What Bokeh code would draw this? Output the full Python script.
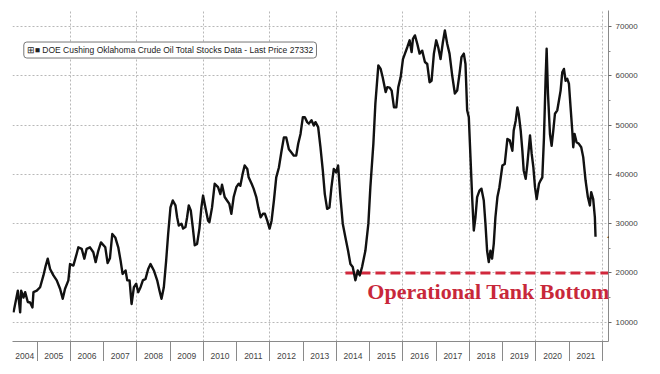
from bokeh.plotting import figure
from bokeh.models import FixedTicker, Label, CustomJSTickFormatter
from bokeh.embed import file_html
from bokeh.resources import INLINE

# ---- data (decimal year, thousand barrels) ----
dates = [
    2004.29, 2004.42, 2004.49, 2004.52, 2004.59, 2004.64, 2004.72, 2004.79, 2004.86, 2004.89,
    2004.99, 2005.09, 2005.19, 2005.26, 2005.32, 2005.39, 2005.49, 2005.59, 2005.69, 2005.77,
    2005.84, 2005.94, 2005.99, 2006.09, 2006.19, 2006.24, 2006.34, 2006.42, 2006.49, 2006.59,
    2006.69, 2006.76, 2006.84, 2006.92, 2007.05, 2007.12, 2007.19, 2007.26, 2007.35, 2007.44,
    2007.51, 2007.57, 2007.66, 2007.71, 2007.78, 2007.84, 2007.91, 2007.98, 2008.04, 2008.11,
    2008.18, 2008.26, 2008.34, 2008.41, 2008.51, 2008.61, 2008.68, 2008.74, 2008.81, 2008.88,
    2008.94, 2009.01, 2009.08, 2009.16, 2009.21, 2009.26, 2009.34, 2009.39, 2009.46, 2009.51,
    2009.56, 2009.62, 2009.68, 2009.74, 2009.81, 2009.88, 2009.94, 2009.99, 2010.06, 2010.14,
    2010.18, 2010.26, 2010.34, 2010.44, 2010.51, 2010.56, 2010.64, 2010.71, 2010.78, 2010.84,
    2010.91, 2010.99, 2011.06, 2011.11, 2011.18, 2011.24, 2011.32, 2011.36, 2011.45, 2011.51,
    2011.59, 2011.65, 2011.72, 2011.79, 2011.85, 2011.92, 2011.99, 2012.05, 2012.12, 2012.19,
    2012.27, 2012.35, 2012.42, 2012.49, 2012.57, 2012.64, 2012.72, 2012.79, 2012.85, 2012.92,
    2012.99, 2013.05, 2013.12, 2013.17, 2013.25, 2013.32, 2013.37, 2013.45, 2013.52, 2013.59,
    2013.65, 2013.72, 2013.79, 2013.85, 2013.92, 2013.99, 2014.05, 2014.12, 2014.19, 2014.27,
    2014.35, 2014.42, 2014.49, 2014.57, 2014.64, 2014.70, 2014.77, 2014.87, 2014.96, 2015.02,
    2015.11, 2015.17, 2015.26, 2015.33, 2015.39, 2015.48, 2015.53, 2015.60, 2015.66, 2015.73,
    2015.80, 2015.86, 2015.93, 2016.00, 2016.06, 2016.13, 2016.20, 2016.26, 2016.30, 2016.36,
    2016.43, 2016.50, 2016.58, 2016.66, 2016.73, 2016.80, 2016.86, 2016.93, 2017.00, 2017.06,
    2017.13, 2017.20, 2017.26, 2017.33, 2017.40, 2017.48, 2017.56, 2017.63, 2017.70, 2017.76,
    2017.83, 2017.88, 2017.93, 2017.98, 2018.03, 2018.08, 2018.13, 2018.18, 2018.23, 2018.30,
    2018.36, 2018.43, 2018.48, 2018.53, 2018.58, 2018.63, 2018.68, 2018.73, 2018.78, 2018.84,
    2018.90, 2018.99, 2019.06, 2019.14, 2019.21, 2019.29, 2019.33, 2019.39, 2019.44, 2019.48,
    2019.54, 2019.59, 2019.63, 2019.69, 2019.74, 2019.82, 2019.87, 2019.92, 2019.97, 2020.02,
    2020.09, 2020.14, 2020.19, 2020.24, 2020.29, 2020.32, 2020.36, 2020.42, 2020.47, 2020.52,
    2020.57, 2020.64, 2020.69, 2020.74, 2020.79, 2020.84, 2020.89, 2020.94, 2020.99, 2021.04,
    2021.09, 2021.12, 2021.16, 2021.22, 2021.29, 2021.36, 2021.42, 2021.49, 2021.56, 2021.62,
    2021.66, 2021.72, 2021.77, 2021.79,
]
stocks = [
    12000, 16400, 12000, 16400, 15000, 16100, 14100, 14000, 13000, 16100,
    16400, 17100, 19500, 21500, 22900, 20800, 19500, 18500, 16800, 14750,
    16800, 18500, 21800, 21500, 23900, 25200, 24900, 22900, 24900, 25200,
    24200, 22200, 24500, 26200, 25200, 22000, 23000, 27900, 27200, 25200,
    22500, 19800, 20500, 18500, 18500, 13700, 17100, 17800, 16100, 17100,
    18500, 18800, 20800, 21800, 20500, 18500, 16400, 14750, 17100, 22500,
    27900, 33300, 34700, 33700, 31300, 29600, 30000, 29000, 29300, 31300,
    33700, 32700, 29300, 25600, 25900, 29000, 33300, 35700, 33300, 30600,
    30300, 33300, 38100, 37400, 36000, 37900, 35400, 34700, 34000, 32000,
    35400, 37400, 38100, 37700, 40100, 41800, 41100, 39400, 38100, 37100,
    35400, 33300, 31300, 32000, 32000, 30600, 29000, 30600, 34700, 39400,
    41400, 44800, 47500, 47500, 45100, 44500, 43800, 43800, 46200, 48200,
    51600, 51600, 50600, 50300, 51000, 49900, 50600, 49600, 45500, 40800,
    36000, 33000, 33300, 37400, 41100, 40400, 41800, 35400, 30000, 27200,
    24500, 21800, 21200, 18500, 20500, 19500, 21200, 24500, 30000, 37400,
    46200, 54300, 62100, 61400, 59700, 56700, 57700, 57600, 57000, 53600,
    53600, 57700, 59700, 63400, 64500, 65800, 67200, 64800, 67500, 68200,
    66500, 64500, 65100, 62800, 62400, 58700, 59000, 64500, 67200, 65800,
    63400, 66800, 69200, 66500, 64500, 60100, 56400, 57000, 60400, 63800,
    64500, 62400, 53000, 51600, 43500, 35400, 28600, 31300, 35400, 36700,
    37100, 34700, 30000, 24500, 22200, 24500, 22900, 25900, 31300, 35400,
    37400, 41800, 42100, 47200, 46900, 44800, 48900, 50900, 53600, 52300,
    48900, 44800, 40800, 39100, 42100, 47900, 44200, 41500, 37400, 35000,
    38100, 38800, 39400, 47500, 59700, 65500, 56400, 48200, 45800, 48900,
    52300, 53000, 55000, 57000, 60700, 61400, 59000, 59400, 58400, 53600,
    48900, 45500, 48200, 46500, 46200, 45500, 43500, 38800, 35400, 33700,
    36400, 35000, 31300, 27332,
]
year_labels = list(range(2004, 2022))
y_ticks = [10000, 20000, 30000, 40000, 50000, 60000, 70000]
y_minor = [15000, 25000, 35000, 45000, 55000, 65000]
tank_bottom = 20000
tank_bottom_from = 2014.27
last_price = stocks[-1]
legend_text = "DOE Cushing Oklahoma Crude Oil Total Stocks Data - Last Price 27332"

# ---- figure ----
x0, x1 = 2004.26, 2022.18
y0, y1 = 6090, 73250

p = figure(frame_width=596, frame_height=331, x_range=(x0, x1), y_range=(y0, y1),
           y_axis_location="right", output_backend="svg", toolbar_location=None,
           min_border_left=12, min_border_top=10, min_border_right=44, min_border_bottom=20,
           background_fill_color="white", border_fill_color="white")
p.outline_line_color = None

# grids
p.xgrid.ticker = FixedTicker(ticks=[y for y in range(2006, 2023, 2)])
p.ygrid.ticker = FixedTicker(ticks=y_ticks)
for g in (p.xgrid, p.ygrid):
    g.grid_line_color = "#b8b8b8"
    g.grid_line_dash = "2 2"
    g.grid_line_width = 1

# bottom axis: year labels centred in each year, separators at year boundaries
mids = [max(y + 0.5, (x0 + y + 1) / 2) for y in year_labels]
bounds = [y for y in range(2005, 2023)]
xa = p.xaxis[0]
xa.ticker = FixedTicker(ticks=mids, minor_ticks=bounds)
xa.formatter = CustomJSTickFormatter(code="return String(Math.floor(tick))")
xa.major_tick_out = 0
xa.major_tick_in = 0
xa.minor_tick_in = 0
xa.minor_tick_out = 21
xa.minor_tick_line_color = "#8a8a8a"
xa.axis_line_color = "#8a8a8a"
xa.major_label_standoff = -10
xa.major_label_text_font = "Liberation Sans"
xa.major_label_text_font_size = "8.5px"
xa.major_label_text_color = "#444444"

# right axis
ya = p.yaxis[0]
ya.ticker = FixedTicker(ticks=y_ticks, minor_ticks=y_minor)
ya.major_tick_out = 3
ya.major_tick_in = 0
ya.minor_tick_out = 2
ya.minor_tick_in = 0
ya.major_tick_line_color = "#666666"
ya.minor_tick_line_color = "#888888"
ya.axis_line_color = "#8a8a8a"
ya.major_label_standoff = 4
ya.major_label_text_font = "Liberation Sans"
ya.major_label_text_font_size = "8px"
ya.major_label_text_color = "#444444"

# operational tank bottom line
p.line([tank_bottom_from, x1 + 1], [tank_bottom, tank_bottom], line_color="#d1283c",
       line_width=3, line_dash="10 5")

# main series
p.line(dates, stocks, line_color="#111111", line_width=2.4, line_join="round")

# annotations
p.add_layout(Label(x=2014.93, y=16300, text="Operational Tank Bottom",
                   text_font="Liberation Serif", text_font_style="bold",
                   text_font_size="22px", text_color="#c8283a",
                   text_baseline="alphabetic", text_align="left"))

p.add_layout(Label(x=2022.30, y=last_price, text="◀", text_color="black",
                   text_font_size="7px", text_baseline="middle", text_align="right"))
p.add_layout(Label(x=2022.32, y=last_price, text=str(last_price), text_color="white",
                   text_font="Liberation Sans", text_font_size="8px",
                   background_fill_color="black", text_baseline="middle",
                   text_align="left", padding=2))

p.add_layout(Label(x=2004.60, y=65232, text="⊞■ " + legend_text, text_color="#222222",
                   text_font="Liberation Sans", text_font_size="8.5px",
                   background_fill_color="white", border_line_color="#777777",
                   border_line_width=1, text_baseline="middle", text_align="left",
                   padding=3, border_radius=3))

open("out.html", "w").write(file_html(p, INLINE))
